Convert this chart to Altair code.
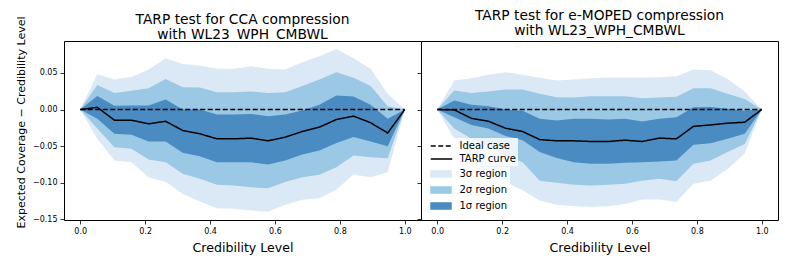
import altair as alt
import pandas as pd

# ---------------- data ----------------
x_vals = [0.0, 0.0526, 0.1053, 0.1579, 0.2105, 0.2632, 0.3158, 0.3684, 0.4211, 0.4737,
          0.5263, 0.5789, 0.6316, 0.6842, 0.7368, 0.7895, 0.8421, 0.8947, 0.9474, 1.0]

cca_tarp = [0, 0.003, -0.0145, -0.0145, -0.0195, -0.016, -0.0286, -0.033, -0.040, -0.040,
            -0.039, -0.0427, -0.0377, -0.030, -0.024, -0.0136, -0.009, -0.018, -0.032, 0]
cca_hi3 = [0, 0.048, 0.041, 0.0445, 0.0545, 0.070, 0.062, 0.060, 0.0555, 0.0555,
           0.059, 0.0555, 0.0545, 0.0645, 0.0727, 0.0827, 0.070, 0.0555, 0.0214, 0]
cca_hi2 = [0, 0.0336, 0.0227, 0.0255, 0.029, 0.0418, 0.0305, 0.030, 0.0236, 0.0236,
           0.0245, 0.0227, 0.0236, 0.032, 0.041, 0.051, 0.0432, 0.032, 0.0045, 0]
cca_hi1 = [0, 0.0186, 0.005, 0.0055, 0.0055, 0.0136, 0.0, 0.0, -0.0068, -0.0068,
           -0.006, -0.009, -0.0068, -0.0014, 0.0064, 0.019, 0.0177, 0.0064, -0.0127, 0]
cca_lo1 = [0, -0.0127, -0.033, -0.0345, -0.0436, -0.0436, -0.059, -0.0636, -0.072, -0.072,
           -0.072, -0.075, -0.0695, -0.0614, -0.056, -0.0455, -0.0373, -0.0436, -0.050, 0]
cca_lo2 = [0, -0.026, -0.0514, -0.0536, -0.068, -0.072, -0.0877, -0.0945, -0.1027, -0.1036,
           -0.106, -0.1073, -0.099, -0.0923, -0.089, -0.0786, -0.0627, -0.065, -0.0664, 0]
cca_lo3 = [0, -0.040, -0.0695, -0.072, -0.0923, -0.099, -0.115, -0.1255, -0.1345, -0.1355,
           -0.1377, -0.139, -0.130, -0.1232, -0.121, -0.109, -0.0886, -0.0923, -0.0855, 0]

emo_tarp = [0, -0.0005, -0.012, -0.016, -0.0255, -0.030, -0.041, -0.0427, -0.0427, -0.0436,
            -0.0436, -0.0418, -0.0436, -0.039, -0.040, -0.023, -0.021, -0.0186, -0.0173, 0]
emo_hi3 = [0, 0.0395, 0.0427, 0.0473, 0.051, 0.0473, 0.0432, 0.0395, 0.041, 0.0427,
           0.0436, 0.0436, 0.0436, 0.044, 0.0455, 0.0545, 0.0536, 0.0418, 0.0245, 0]
emo_hi2 = [0, 0.026, 0.0227, 0.0245, 0.0273, 0.0273, 0.0214, 0.0168, 0.0164, 0.018,
           0.018, 0.018, 0.0155, 0.0164, 0.0173, 0.029, 0.029, 0.0214, 0.0145, 0]
emo_hi1 = [0, 0.0123, 0.0064, 0.0045, 0.0, -0.0018, -0.0127, -0.015, -0.0127, -0.0127,
           -0.0136, -0.0127, -0.0164, -0.0127, -0.0105, 0.003, 0.0036, 0.001, -0.0018, 0]
emo_lo1 = [0, -0.0105, -0.021, -0.026, -0.036, -0.042, -0.058, -0.066, -0.072, -0.074,
           -0.074, -0.0727, -0.072, -0.071, -0.0695, -0.048, -0.046, -0.040, -0.033, 0]
emo_lo2 = [0, -0.026, -0.040, -0.050, -0.0636, -0.072, -0.097, -0.100, -0.1027, -0.1036,
           -0.1027, -0.1014, -0.097, -0.0945, -0.098, -0.074, -0.0695, -0.058, -0.047, 0]
emo_lo3 = [0, -0.040, -0.067, -0.0877, -0.099, -0.110, -0.124, -0.130, -0.132, -0.133,
           -0.132, -0.129, -0.1227, -0.1227, -0.126, -0.1014, -0.097, -0.081, -0.060, 0]

ideal_x = [0.0, 1.0]
ideal_y = [0.0, 0.0]

line_labels = ["Ideal case", "TARP curve"]
line_dashes = [[5, 2.5], [1, 0]]
region_labels = ["3σ region", "2σ region", "1σ region"]
region_colors = ["#dbe9f6", "#9ac8e5", "#4a8bc2"]

x_ticks = [0.0, 0.2, 0.4, 0.6, 0.8, 1.0]
y_ticks = [-0.15, -0.10, -0.05, 0.0, 0.05]

titles = [["TARP test for CCA compression", "with WL23_WPH_CMBWL"],
          ["TARP test for e-MOPED compression", "with WL23_WPH_CMBWL"]]

FONT = "DejaVu Sans"

common_leg = dict(orient="none", title=None, labelFont=FONT, labelFontSize=10,
                  labelColor="#000", fillColor="rgba(255,255,255,0.8)",
                  padding=2, symbolSize=110, symbolOffset=9.5)

line_legend = alt.Legend(legendX=3, legendY=97, symbolType="M-2.05,0H2.05",
                         symbolStrokeColor="#000", symbolStrokeWidth=1.5,
                         symbolFillColor="transparent", rowPadding=2, labelOffset=12,
                         **common_leg)
region_legend = alt.Legend(legendX=3, legendY=125.5, symbolType="M-2.05,-0.72H2.05V0.72H-2.05Z",
                           symbolStrokeWidth=0, rowPadding=5, labelOffset=13, **common_leg)


def panel(title_lines, tarp, bands, left):
    fill = alt.Fill("label:N", scale=alt.Scale(domain=region_labels, range=region_colors),
                    legend=None if left else region_legend)
    dash = alt.StrokeDash("label:N", scale=alt.Scale(domain=line_labels, range=line_dashes),
                          legend=None if left else line_legend)
    xenc = alt.X("x:Q", scale=alt.Scale(domain=[-0.05, 1.05], nice=False, zero=False),
                 axis=alt.Axis(values=x_ticks, format=".1f", title="Credibility Level"))
    yscale = alt.Scale(domain=[-0.1507, 0.0935], nice=False, zero=False)
    if left:
        yaxis = alt.Axis(values=y_ticks, format=".2f", titleY=81,
                         title="Expected Coverage \u2212 Credibility Level")
    else:
        yaxis = alt.Axis(values=y_ticks, labels=False, title=None)

    layers = []
    for lab, lo, hi in bands:
        df = pd.DataFrame({"x": x_vals, "lo": lo, "hi": hi, "label": lab})
        layers.append(
            alt.Chart(df).mark_area(opacity=1, interpolate="linear").encode(
                x=xenc, y=alt.Y("lo:Q", scale=yscale, axis=yaxis, stack=None),
                y2="hi:Q", fill=fill)
        )
    ideal_df = pd.DataFrame({"x": ideal_x, "y": ideal_y, "label": "Ideal case"})
    tarp_df = pd.DataFrame({"x": x_vals, "y": tarp, "label": "TARP curve"})
    line_df = pd.concat([ideal_df, tarp_df], ignore_index=True)
    layers.append(
        alt.Chart(line_df).mark_line(color="#000000", strokeWidth=1.5).encode(
            x=xenc, y=alt.Y("y:Q", scale=yscale, axis=yaxis), strokeDash=dash,
            detail="label:N")
    )
    # the left panel's y-axis title sticks out above the plot; compensate
    off = -26 if left else 3
    return alt.layer(*layers).properties(
        width=357, height=179,
        title=alt.TitleParams(text=title_lines, anchor="middle", offset=off, frame="group"),
    )


left = panel(titles[0], cca_tarp,
             [("3σ region", cca_lo3, cca_hi3), ("2σ region", cca_lo2, cca_hi2),
              ("1σ region", cca_lo1, cca_hi1)], True)
right = panel(titles[1], emo_tarp,
              [("3σ region", emo_lo3, emo_hi3), ("2σ region", emo_lo2, emo_hi2),
               ("1σ region", emo_lo1, emo_hi1)], False)

chart = alt.hconcat(left, right, spacing=0, bounds="flush").resolve_scale(
    fill="independent", strokeDash="independent").resolve_legend(
    fill="independent", strokeDash="independent").properties(
    padding={"left": 6, "top": 0, "right": 2, "bottom": 2}
).configure(font=FONT).configure_view(
    stroke="#000000", strokeWidth=1
).configure_axis(
    grid=False, domain=False, ticks=True, tickSize=4, tickWidth=0.8, tickColor="#000",
    labelFont=FONT, labelFontSize=8, labelColor="#000", labelPadding=3,
    titleFont=FONT, titleFontSize=11, titleFontWeight="normal", titleColor="#000",
).configure_axisY(titlePadding=6).configure_axisX(titlePadding=6, titleFontSize=12.6).configure_title(
    font=FONT, fontSize=13.8, fontWeight="normal", color="#000", lineHeight=15.5
)

chart.save("out.html", embed_options={"renderer": "svg", "actions": False})
